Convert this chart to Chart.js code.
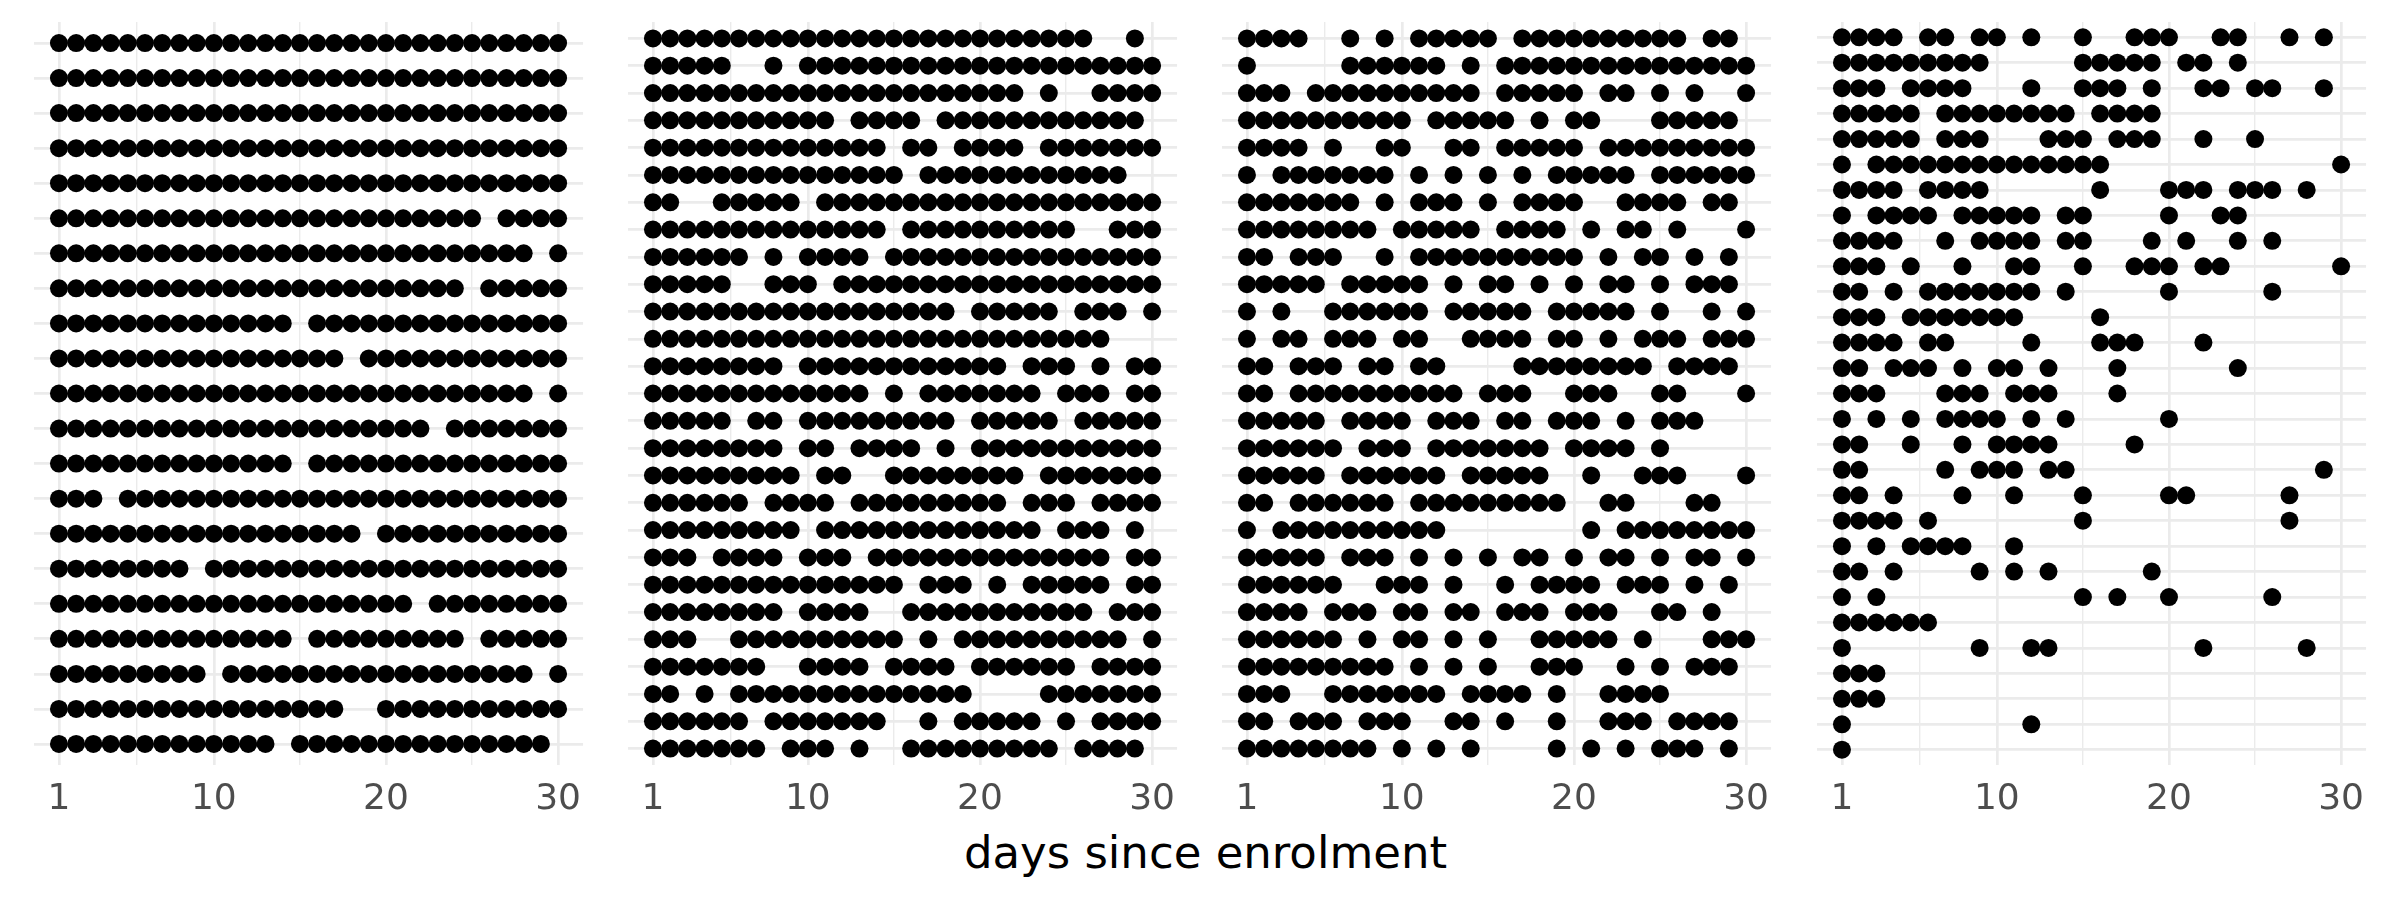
<!DOCTYPE html>
<html>
<head>
<meta charset="utf-8">
<script src="https://cdn.jsdelivr.net/npm/chart.js@4.4.0/dist/chart.umd.min.js"></script>
<style>
  html, body { margin: 0; padding: 0; background: #fff; }
  #wrap { position: relative; width: 2400px; height: 900px; overflow: hidden; background: #fff; }
  #wrap canvas { position: absolute; top: 22px; }
  #xtitle { position: absolute; left: 0; width: 2411px; top: 830px; text-align: center;
            font-family: "DejaVu Sans"; font-size: 45px; line-height: 45px; color: #000; }
</style>
</head>
<body>
<div id="wrap">
  <canvas id="p1"></canvas>
  <canvas id="p2"></canvas>
  <canvas id="p3"></canvas>
  <canvas id="p4"></canvas>
  <div id="xtitle">days since enrolment</div>
</div>
<script>
// x axis: days since enrolment
const dayLabels = [1, 10, 20, 30];
const dayGrid = [1, 5.5, 10, 15, 20, 25, 30];

// one string per participant (top row first), listing the days with a dot
const panel1Rows = [
  "1-30", "1-30", "1-30", "1-30", "1-30",
  "1-25,27-30", "1-28,30", "1-24,26-30", "1-14,16-30", "1-17,19-30",
  "1-28,30", "1-22,24-30", "1-14,16-30", "1-3,5-30", "1-18,20-30",
  "1-8,10-30", "1-21,23-30", "1-14,16-24,26-30", "1-9,11-28,30", "1-17,20-30",
  "1-13,15-29"
];

const panel2Rows = [
  "1-26,29",
  "1-5,8,10-30",
  "1-22,24,27-30",
  "1-11,13-16,18-29",
  "1-14,16-17,19-22,24-30",
  "1-15,17-28",
  "1-2,5-9,11-30",
  "1-14,16-25,28-30",
  "1-6,8,10-13,15-30",
  "1-5,8-10,12-30",
  "1-18,20-24,26-28,30",
  "1-27",
  "1-8,10-21,23-25,27,29-30",
  "1-13,15,17-23,25-27,29-30",
  "1-5,7-8,10-18,20-24,26-30",
  "1-8,10-11,13-16,18,20-30",
  "1-9,11-12,15-22,24-30",
  "1-6,8-11,13-21,23-25,27-30",
  "1-9,11-23,25-27,29",
  "1-3,5-8,10-12,14-27,29-30",
  "1-15,17-19,21,23-27,29-30",
  "1-8,10-13,16-26,28-30",
  "1-3,6-15,17,19-28,30",
  "1-7,10-13,15-18,20-25,27-30",
  "1-2,4,6-19,24-30",
  "1-6,8-14,17,19-23,25,27-30",
  "1-7,9-11,13,16-24,26-29"
];

const panel3Rows = [
  "1-4,7,9,11-15,17-26,28-29",
  "1,7-12,14,16-30",
  "1-3,5-14,16-20,22-23,25,27,30",
  "1-10,12-16,18,20-21,25-29",
  "1-4,6,9-10,13-14,16-20,22-30",
  "1,3-9,11,13,15,17,19-23,25-30",
  "1-7,9,11-13,15,17-20,23-26,28-29",
  "1-8,10-14,16-19,21,23-24,26,30",
  "1-2,4-6,9,11-20,22,24-25,27,29",
  "1-5,7-11,13,15-16,18,20,22-23,25,27-29",
  "1,3,6-11,13-17,19-23,25,28,30",
  "1,3-4,6-8,10-11,14-17,19-20,22,24-26,28-30",
  "1-2,4-6,8-9,11-12,17-24,26-29",
  "1-2,4-13,15-17,20-22,25-26,30",
  "1-5,7-10,12-14,16-17,19-21,23,25-27",
  "1-6,8-10,12-18,20-23,25",
  "1-5,7-12,14-18,21,24-26,30",
  "1-2,4-9,11-19,22-23,27-28",
  "1,3-12,21,23-30",
  "1-5,7-9,11,13,15,17-18,20,22-23,25,27-28,30",
  "1-6,9-11,13,16,18-21,23-25,27,29",
  "1-4,6-8,10-11,13-14,16-18,20-22,25-26,28",
  "1-6,8,10-11,13,15,18-22,24,28-30",
  "1-9,11,13,15,18-20,23,25,27-29",
  "1-3,6-12,14-17,19,22-25",
  "1-2,4-6,8-10,13-14,16,19,22-24,26-29",
  "1-8,10,12,14,19,21,23,25-27,29"
];

const panel4Rows = [
  "1-4,6-7,9-10,12,15,18-20,23-24,27,29",
  "1-9,15-19,21-22,24",
  "1-3,5-8,12,15-17,19,22-23,25-26,29",
  "1-5,7-14,16-19",
  "1-5,7-9,13-15,17-19,22,25",
  "1,3-16,30",
  "1-4,6-9,16,20-22,24-26,28",
  "1,3-6,8-12,14-15,20,23-24",
  "1-4,7,9-12,14-15,19,21,24,26",
  "1-3,5,8,11-12,15,18-20,22-23,30",
  "1-2,4,6-12,14,20,26",
  "1-3,5-11,16",
  "1-4,6-7,12,16-18,22",
  "1-2,4-6,8,10-11,13,17,24",
  "1-3,7-9,11-13,17",
  "1,3,5,7-10,12,14,20",
  "1-2,5,8,10-13,18",
  "1-2,7,9-11,13-14,29",
  "1-2,4,8,11,15,20-21,27",
  "1-4,6,15,27",
  "1,3,5-8,11",
  "1-2,4,9,11,13,19",
  "1,3,15,17,20,26",
  "1-6",
  "1,9,12-13,22,28",
  "1-3",
  "1-3",
  "1,12",
  "1"
];

const panelLefts = [34, 628, 1222, 1817];
const panelW = 560;
const panelH = 743;
const axisH = 60;

function expandDays(spec) {
  let days = [];
  spec.split(",").forEach(function (part) {
    let ends = part.split("-").map(Number);
    let last = ends.length > 1 ? ends[1] : ends[0];
    for (let d = ends[0]; d <= last; d++) days.push(d);
  });
  return days;
}

function makePanel(id, rows, left) {
  let pts = [];
  rows.forEach(function (spec, i) {
    expandDays(spec).forEach(function (d) {
      pts.push({ x: d, y: i + 1 });
    });
  });
  let n = rows.length;
  let rowTicks = rows.map(function (r, i) { return { value: i + 1 }; });

  let canvas = document.getElementById(id);
  canvas.width = panelW;
  canvas.height = panelH + axisH;
  canvas.style.left = left + "px";
  canvas.style.width = panelW + "px";
  canvas.style.height = (panelH + axisH) + "px";

  return new Chart(canvas, {
    type: "scatter",
    data: {
      datasets: [{
        data: pts,
        backgroundColor: "#000000",
        borderWidth: 0,
        pointRadius: 9,
        pointHoverRadius: 9
      }]
    },
    options: {
      responsive: false,
      maintainAspectRatio: false,
      devicePixelRatio: 1,
      animation: false,
      events: [],
      layout: { padding: 0, autoPadding: false },
      plugins: { legend: { display: false }, tooltip: { enabled: false } },
      scales: {
        x: {
          type: "linear",
          min: -0.45,
          max: 31.45,
          afterBuildTicks: function (axis) {
            axis.ticks = dayGrid.map(function (v) { return { value: v }; });
          },
          afterFit: function (axis) { axis.height = axisH; },
          border: { display: false },
          grid: {
            color: "#EBEBEB",
            drawTicks: false,
            lineWidth: function (ctx) {
              return dayLabels.indexOf(ctx.tick.value) >= 0 ? 2.7 : 1.4;
            }
          },
          ticks: {
            autoSkip: false,
            maxRotation: 0,
            padding: 13,
            color: "#4D4D4D",
            font: { family: "DejaVu Sans", size: 36 },
            callback: function (v) {
              return dayLabels.indexOf(v) >= 0 ? String(v) : "";
            }
          }
        },
        y: {
          type: "linear",
          reverse: true,
          min: 0.4,
          max: n + 0.6,
          afterBuildTicks: function (axis) { axis.ticks = rowTicks.slice(); },
          afterFit: function (axis) { axis.width = 0; },
          border: { display: false },
          grid: { color: "#EBEBEB", lineWidth: 2.7, drawTicks: false },
          ticks: { display: false }
        }
      }
    }
  });
}

makePanel("p1", panel1Rows, panelLefts[0]);
makePanel("p2", panel2Rows, panelLefts[1]);
makePanel("p3", panel3Rows, panelLefts[2]);
makePanel("p4", panel4Rows, panelLefts[3]);
</script>
</body>
</html>
